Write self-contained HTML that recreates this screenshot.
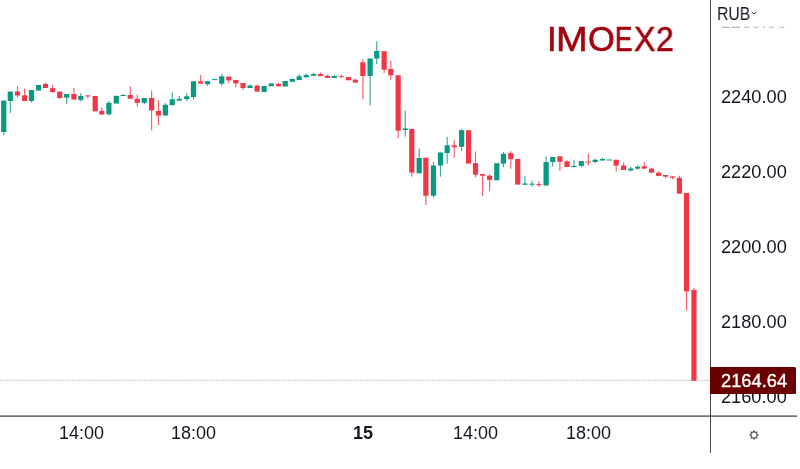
<!DOCTYPE html>
<html><head><meta charset="utf-8">
<style>
html,body{margin:0;padding:0;background:#fff;}
body{width:800px;height:469px;overflow:hidden;position:relative;font-family:"Liberation Sans",sans-serif;}
.abs{position:absolute;white-space:nowrap;}
.pl,.tl,.ti,.tx{will-change:transform;}
.pl{position:absolute;left:721px;font-size:18.2px;line-height:18px;color:#131722;}
.ti{position:absolute;top:22.3px;font-size:34.5px;line-height:34.7px;color:#a1040f;-webkit-text-stroke:0.6px #a1040f;transform-origin:0 0;}
.tl{position:absolute;top:424px;font-size:18px;line-height:18px;color:#131722;}
</style></head><body>
<svg class="abs" style="left:0;top:0" width="800" height="469" viewBox="0 0 800 469">
<line x1="0" y1="380.4" x2="710" y2="380.4" stroke="#c4baba" stroke-width="1.1" stroke-dasharray="0.9 0.9"/>
<rect x="3.17" y="100.60" width="1.15" height="34.40" fill="#089981" fill-opacity="0.8"/>
<rect x="1.15" y="100.60" width="5.2" height="31.40" fill="#089981"/>
<rect x="9.73" y="91.60" width="1.15" height="21.40" fill="#089981" fill-opacity="0.8"/>
<rect x="7.70" y="91.60" width="5.2" height="9.40" fill="#089981"/>
<rect x="16.93" y="86.00" width="1.15" height="11.60" fill="#F23645" fill-opacity="0.8"/>
<rect x="14.90" y="91.60" width="5.2" height="3.80" fill="#F23645"/>
<rect x="24.07" y="88.40" width="1.15" height="12.60" fill="#F23645" fill-opacity="0.8"/>
<rect x="22.05" y="95.40" width="5.2" height="5.60" fill="#F23645"/>
<rect x="30.93" y="90.00" width="1.15" height="12.50" fill="#089981" fill-opacity="0.8"/>
<rect x="28.90" y="90.00" width="5.2" height="11.00" fill="#089981"/>
<rect x="35.90" y="85.00" width="5.2" height="5.60" fill="#089981"/>
<rect x="44.92" y="83.00" width="1.15" height="5.00" fill="#F23645" fill-opacity="0.8"/>
<rect x="42.90" y="84.00" width="5.2" height="4.00" fill="#F23645"/>
<rect x="52.12" y="85.00" width="1.15" height="8.00" fill="#F23645" fill-opacity="0.8"/>
<rect x="50.10" y="88.20" width="5.2" height="3.80" fill="#F23645"/>
<rect x="59.12" y="91.60" width="1.15" height="7.40" fill="#F23645" fill-opacity="0.8"/>
<rect x="57.10" y="91.60" width="5.2" height="6.40" fill="#F23645"/>
<rect x="66.12" y="94.00" width="1.15" height="10.00" fill="#089981" fill-opacity="0.8"/>
<rect x="64.10" y="94.00" width="5.2" height="3.60" fill="#089981"/>
<rect x="73.38" y="88.00" width="1.15" height="11.50" fill="#F23645" fill-opacity="0.8"/>
<rect x="71.35" y="94.00" width="5.2" height="5.50" fill="#F23645"/>
<rect x="80.23" y="93.00" width="1.15" height="8.60" fill="#089981" fill-opacity="0.8"/>
<rect x="78.20" y="96.00" width="5.2" height="3.90" fill="#089981"/>
<rect x="87.22" y="95.40" width="1.15" height="3.00" fill="#F23645" fill-opacity="0.8"/>
<rect x="85.20" y="95.40" width="5.2" height="1.00" fill="#F23645"/>
<rect x="92.60" y="96.00" width="5.2" height="15.40" fill="#F23645"/>
<rect x="101.22" y="107.30" width="1.15" height="7.20" fill="#F23645" fill-opacity="0.8"/>
<rect x="99.20" y="111.00" width="5.2" height="3.50" fill="#F23645"/>
<rect x="108.33" y="101.00" width="1.15" height="14.50" fill="#089981" fill-opacity="0.8"/>
<rect x="106.30" y="102.80" width="5.2" height="11.50" fill="#089981"/>
<rect x="113.70" y="95.80" width="5.2" height="7.80" fill="#089981"/>
<rect x="122.62" y="94.00" width="1.15" height="2.00" fill="#089981" fill-opacity="0.8"/>
<rect x="120.60" y="95.00" width="5.2" height="1.00" fill="#089981"/>
<rect x="129.68" y="86.40" width="1.15" height="12.40" fill="#F23645" fill-opacity="0.8"/>
<rect x="127.65" y="95.00" width="5.2" height="3.80" fill="#F23645"/>
<rect x="136.68" y="94.60" width="1.15" height="12.00" fill="#F23645" fill-opacity="0.8"/>
<rect x="134.65" y="98.80" width="5.2" height="4.00" fill="#F23645"/>
<rect x="143.68" y="98.00" width="1.15" height="6.00" fill="#089981" fill-opacity="0.8"/>
<rect x="141.65" y="98.00" width="5.2" height="4.80" fill="#089981"/>
<rect x="151.03" y="90.60" width="1.15" height="39.70" fill="#F23645" fill-opacity="0.8"/>
<rect x="149.00" y="98.00" width="5.2" height="12.40" fill="#F23645"/>
<rect x="157.88" y="100.30" width="1.15" height="24.70" fill="#F23645" fill-opacity="0.8"/>
<rect x="155.85" y="111.00" width="5.2" height="4.50" fill="#F23645"/>
<rect x="164.78" y="103.00" width="1.15" height="12.50" fill="#089981" fill-opacity="0.8"/>
<rect x="162.75" y="104.80" width="5.2" height="10.70" fill="#089981"/>
<rect x="171.68" y="92.50" width="1.15" height="12.70" fill="#089981" fill-opacity="0.8"/>
<rect x="169.65" y="99.30" width="5.2" height="5.90" fill="#089981"/>
<rect x="178.73" y="95.80" width="1.15" height="4.80" fill="#089981" fill-opacity="0.8"/>
<rect x="176.70" y="98.80" width="5.2" height="1.80" fill="#089981"/>
<rect x="186.18" y="93.00" width="1.15" height="8.00" fill="#089981" fill-opacity="0.8"/>
<rect x="184.15" y="96.30" width="5.2" height="2.80" fill="#089981"/>
<rect x="192.93" y="81.30" width="1.15" height="18.20" fill="#089981" fill-opacity="0.8"/>
<rect x="190.90" y="81.30" width="5.2" height="15.70" fill="#089981"/>
<rect x="200.12" y="75.00" width="1.15" height="8.60" fill="#F23645" fill-opacity="0.8"/>
<rect x="198.10" y="81.30" width="5.2" height="2.30" fill="#F23645"/>
<rect x="206.93" y="81.20" width="1.15" height="4.50" fill="#089981" fill-opacity="0.8"/>
<rect x="204.90" y="81.20" width="5.2" height="3.00" fill="#089981"/>
<rect x="212.05" y="78.90" width="5.2" height="1.00" fill="#089981"/>
<rect x="221.18" y="74.00" width="1.15" height="11.60" fill="#089981" fill-opacity="0.8"/>
<rect x="219.15" y="76.30" width="5.2" height="7.40" fill="#089981"/>
<rect x="228.23" y="76.60" width="1.15" height="6.80" fill="#F23645" fill-opacity="0.8"/>
<rect x="226.20" y="76.60" width="5.2" height="3.80" fill="#F23645"/>
<rect x="235.28" y="80.00" width="1.15" height="7.50" fill="#F23645" fill-opacity="0.8"/>
<rect x="233.25" y="80.00" width="5.2" height="3.40" fill="#F23645"/>
<rect x="242.48" y="83.00" width="1.15" height="7.00" fill="#F23645" fill-opacity="0.8"/>
<rect x="240.45" y="83.00" width="5.2" height="5.00" fill="#F23645"/>
<rect x="249.48" y="84.50" width="1.15" height="3.50" fill="#089981" fill-opacity="0.8"/>
<rect x="247.45" y="85.60" width="5.2" height="2.40" fill="#089981"/>
<rect x="256.57" y="84.50" width="1.15" height="7.10" fill="#F23645" fill-opacity="0.8"/>
<rect x="254.55" y="85.60" width="5.2" height="6.00" fill="#F23645"/>
<rect x="261.50" y="86.00" width="5.2" height="6.00" fill="#089981"/>
<rect x="268.70" y="83.40" width="5.2" height="2.90" fill="#089981"/>
<rect x="277.88" y="82.60" width="1.15" height="3.70" fill="#F23645" fill-opacity="0.8"/>
<rect x="275.85" y="84.00" width="5.2" height="2.30" fill="#F23645"/>
<rect x="282.65" y="81.00" width="5.2" height="5.50" fill="#089981"/>
<rect x="289.75" y="79.00" width="5.2" height="2.80" fill="#089981"/>
<rect x="298.62" y="74.30" width="1.15" height="5.70" fill="#089981" fill-opacity="0.8"/>
<rect x="296.60" y="76.30" width="5.2" height="3.70" fill="#089981"/>
<rect x="305.73" y="73.60" width="1.15" height="3.70" fill="#089981" fill-opacity="0.8"/>
<rect x="303.70" y="75.00" width="5.2" height="2.30" fill="#089981"/>
<rect x="313.07" y="73.00" width="1.15" height="2.80" fill="#089981" fill-opacity="0.8"/>
<rect x="311.05" y="74.00" width="5.2" height="1.80" fill="#089981"/>
<rect x="319.88" y="72.50" width="1.15" height="3.60" fill="#F23645" fill-opacity="0.8"/>
<rect x="317.85" y="74.00" width="5.2" height="2.10" fill="#F23645"/>
<rect x="326.98" y="74.60" width="1.15" height="3.40" fill="#F23645" fill-opacity="0.8"/>
<rect x="324.95" y="75.80" width="5.2" height="2.20" fill="#F23645"/>
<rect x="333.68" y="74.60" width="1.15" height="3.40" fill="#089981" fill-opacity="0.8"/>
<rect x="331.65" y="76.00" width="5.2" height="2.00" fill="#089981"/>
<rect x="340.73" y="74.60" width="1.15" height="2.70" fill="#F23645" fill-opacity="0.8"/>
<rect x="338.70" y="76.30" width="5.2" height="1.00" fill="#F23645"/>
<rect x="345.90" y="77.00" width="5.2" height="3.30" fill="#F23645"/>
<rect x="354.78" y="78.50" width="1.15" height="4.10" fill="#F23645" fill-opacity="0.8"/>
<rect x="352.75" y="79.70" width="5.2" height="2.90" fill="#F23645"/>
<rect x="362.28" y="59.00" width="1.15" height="40.40" fill="#F23645" fill-opacity="0.8"/>
<rect x="360.25" y="62.30" width="5.2" height="13.70" fill="#F23645"/>
<rect x="369.53" y="58.50" width="1.15" height="47.00" fill="#089981" fill-opacity="0.8"/>
<rect x="367.50" y="58.50" width="5.2" height="17.50" fill="#089981"/>
<rect x="376.18" y="41.30" width="1.15" height="22.70" fill="#089981" fill-opacity="0.8"/>
<rect x="374.15" y="51.00" width="5.2" height="7.50" fill="#089981"/>
<rect x="383.57" y="51.30" width="1.15" height="21.70" fill="#F23645" fill-opacity="0.8"/>
<rect x="381.55" y="51.30" width="5.2" height="18.40" fill="#F23645"/>
<rect x="390.23" y="60.70" width="1.15" height="19.00" fill="#F23645" fill-opacity="0.8"/>
<rect x="388.20" y="69.00" width="5.2" height="6.30" fill="#F23645"/>
<rect x="397.57" y="75.30" width="1.15" height="63.00" fill="#F23645" fill-opacity="0.8"/>
<rect x="395.55" y="75.30" width="5.2" height="55.30" fill="#F23645"/>
<rect x="404.68" y="110.60" width="1.15" height="26.00" fill="#089981" fill-opacity="0.8"/>
<rect x="402.65" y="128.50" width="5.2" height="1.50" fill="#089981"/>
<rect x="411.23" y="129.00" width="1.15" height="47.70" fill="#F23645" fill-opacity="0.8"/>
<rect x="409.20" y="129.00" width="5.2" height="43.60" fill="#F23645"/>
<rect x="418.62" y="148.50" width="1.15" height="24.80" fill="#089981" fill-opacity="0.8"/>
<rect x="416.60" y="158.00" width="5.2" height="15.30" fill="#089981"/>
<rect x="425.28" y="157.70" width="1.15" height="47.30" fill="#F23645" fill-opacity="0.8"/>
<rect x="423.25" y="157.70" width="5.2" height="38.00" fill="#F23645"/>
<rect x="432.93" y="162.00" width="1.15" height="35.70" fill="#089981" fill-opacity="0.8"/>
<rect x="430.90" y="165.50" width="5.2" height="30.20" fill="#089981"/>
<rect x="439.88" y="152.50" width="1.15" height="24.20" fill="#089981" fill-opacity="0.8"/>
<rect x="437.85" y="152.50" width="5.2" height="13.00" fill="#089981"/>
<rect x="446.62" y="136.80" width="1.15" height="26.90" fill="#089981" fill-opacity="0.8"/>
<rect x="444.60" y="145.30" width="5.2" height="7.70" fill="#089981"/>
<rect x="453.68" y="140.20" width="1.15" height="17.40" fill="#F23645" fill-opacity="0.8"/>
<rect x="451.65" y="145.30" width="5.2" height="1.90" fill="#F23645"/>
<rect x="461.07" y="128.80" width="1.15" height="22.20" fill="#089981" fill-opacity="0.8"/>
<rect x="459.05" y="130.20" width="5.2" height="16.60" fill="#089981"/>
<rect x="465.95" y="130.20" width="5.2" height="33.40" fill="#F23645"/>
<rect x="474.93" y="151.40" width="1.15" height="25.90" fill="#F23645" fill-opacity="0.8"/>
<rect x="472.90" y="163.20" width="5.2" height="11.50" fill="#F23645"/>
<rect x="482.03" y="174.10" width="1.15" height="21.90" fill="#F23645" fill-opacity="0.8"/>
<rect x="480.00" y="174.10" width="5.2" height="1.60" fill="#F23645"/>
<rect x="489.07" y="174.00" width="1.15" height="16.90" fill="#F23645" fill-opacity="0.8"/>
<rect x="487.05" y="175.70" width="5.2" height="4.10" fill="#F23645"/>
<rect x="494.20" y="163.20" width="5.2" height="17.00" fill="#089981"/>
<rect x="502.88" y="152.00" width="1.15" height="15.20" fill="#089981" fill-opacity="0.8"/>
<rect x="500.85" y="153.90" width="5.2" height="9.70" fill="#089981"/>
<rect x="510.18" y="151.20" width="1.15" height="17.50" fill="#F23645" fill-opacity="0.8"/>
<rect x="508.15" y="153.20" width="5.2" height="6.00" fill="#F23645"/>
<rect x="515.10" y="159.00" width="5.2" height="25.60" fill="#F23645"/>
<rect x="524.32" y="175.90" width="1.15" height="8.90" fill="#089981" fill-opacity="0.8"/>
<rect x="522.30" y="183.50" width="5.2" height="1.30" fill="#089981"/>
<rect x="531.42" y="180.70" width="1.15" height="6.00" fill="#089981" fill-opacity="0.8"/>
<rect x="529.40" y="183.70" width="5.2" height="1.00" fill="#089981"/>
<rect x="538.38" y="181.20" width="1.15" height="5.80" fill="#F23645" fill-opacity="0.8"/>
<rect x="536.35" y="184.10" width="5.2" height="1.00" fill="#F23645"/>
<rect x="545.52" y="156.60" width="1.15" height="28.90" fill="#089981" fill-opacity="0.8"/>
<rect x="543.50" y="162.00" width="5.2" height="23.50" fill="#089981"/>
<rect x="552.22" y="157.00" width="1.15" height="9.60" fill="#089981" fill-opacity="0.8"/>
<rect x="550.20" y="157.00" width="5.2" height="5.00" fill="#089981"/>
<rect x="559.32" y="156.40" width="1.15" height="14.60" fill="#F23645" fill-opacity="0.8"/>
<rect x="557.30" y="156.40" width="5.2" height="5.40" fill="#F23645"/>
<rect x="566.42" y="160.20" width="1.15" height="6.80" fill="#F23645" fill-opacity="0.8"/>
<rect x="564.40" y="161.30" width="5.2" height="5.70" fill="#F23645"/>
<rect x="573.42" y="159.80" width="1.15" height="7.30" fill="#089981" fill-opacity="0.8"/>
<rect x="571.40" y="166.00" width="5.2" height="1.10" fill="#089981"/>
<rect x="580.72" y="161.10" width="1.15" height="6.40" fill="#089981" fill-opacity="0.8"/>
<rect x="578.70" y="161.10" width="5.2" height="4.80" fill="#089981"/>
<rect x="587.77" y="153.80" width="1.15" height="11.60" fill="#F23645" fill-opacity="0.8"/>
<rect x="585.75" y="161.50" width="5.2" height="1.00" fill="#F23645"/>
<rect x="594.57" y="158.60" width="1.15" height="4.40" fill="#089981" fill-opacity="0.8"/>
<rect x="592.55" y="159.80" width="5.2" height="2.20" fill="#089981"/>
<rect x="601.97" y="157.70" width="1.15" height="2.80" fill="#089981" fill-opacity="0.8"/>
<rect x="599.95" y="159.00" width="5.2" height="1.50" fill="#089981"/>
<rect x="606.70" y="159.50" width="5.2" height="1.00" fill="#089981"/>
<rect x="615.62" y="159.80" width="1.15" height="11.60" fill="#F23645" fill-opacity="0.8"/>
<rect x="613.60" y="159.80" width="5.2" height="5.80" fill="#F23645"/>
<rect x="623.02" y="162.40" width="1.15" height="7.60" fill="#F23645" fill-opacity="0.8"/>
<rect x="621.00" y="165.50" width="5.2" height="4.50" fill="#F23645"/>
<rect x="630.17" y="166.80" width="1.15" height="4.60" fill="#089981" fill-opacity="0.8"/>
<rect x="628.15" y="168.50" width="5.2" height="2.00" fill="#089981"/>
<rect x="637.02" y="165.40" width="1.15" height="4.30" fill="#089981" fill-opacity="0.8"/>
<rect x="635.00" y="166.70" width="5.2" height="1.90" fill="#089981"/>
<rect x="643.67" y="161.90" width="1.15" height="6.70" fill="#F23645" fill-opacity="0.8"/>
<rect x="641.65" y="166.20" width="5.2" height="2.40" fill="#F23645"/>
<rect x="650.92" y="167.60" width="1.15" height="5.80" fill="#F23645" fill-opacity="0.8"/>
<rect x="648.90" y="168.60" width="5.2" height="4.00" fill="#F23645"/>
<rect x="658.08" y="171.30" width="1.15" height="4.60" fill="#F23645" fill-opacity="0.8"/>
<rect x="656.05" y="172.70" width="5.2" height="3.20" fill="#F23645"/>
<rect x="665.02" y="175.00" width="1.15" height="3.50" fill="#F23645" fill-opacity="0.8"/>
<rect x="663.00" y="175.00" width="5.2" height="1.60" fill="#F23645"/>
<rect x="672.02" y="176.40" width="1.15" height="2.90" fill="#F23645" fill-opacity="0.8"/>
<rect x="670.00" y="176.40" width="5.2" height="1.30" fill="#F23645"/>
<rect x="678.88" y="175.70" width="1.15" height="17.90" fill="#F23645" fill-opacity="0.8"/>
<rect x="676.85" y="177.80" width="5.2" height="15.80" fill="#F23645"/>
<rect x="685.92" y="193.10" width="1.15" height="117.30" fill="#F23645" fill-opacity="0.8"/>
<rect x="683.90" y="193.10" width="5.2" height="98.20" fill="#F23645"/>
<rect x="693.38" y="288.00" width="1.15" height="92.70" fill="#F23645" fill-opacity="0.8"/>
<rect x="691.35" y="289.90" width="5.2" height="90.80" fill="#F23645"/>

<rect x="710" y="0" width="1" height="453" fill="#474747"/>
<rect x="0" y="415.5" width="797" height="1.2" fill="#3a3a3a"/>
</svg>
<div class="pl" style="top:13.0px">2260.00</div>
<div class="pl" style="top:88.2px">2240.00</div>
<div class="pl" style="top:163.2px">2220.00</div>
<div class="pl" style="top:238.2px">2200.00</div>
<div class="pl" style="top:313.2px">2180.00</div>
<div class="pl" style="top:388.2px">2160.00</div>
<div class="abs" style="left:711px;top:0;width:89px;height:29px;background:linear-gradient(#fff 0,#fff 26px,rgba(255,255,255,0.72) 27px,rgba(255,255,255,0.6) 29px)"></div>
<div class="abs tx" style="left:717px;top:5px;font-size:18px;line-height:18px;color:#131722;transform:scaleX(0.875);transform-origin:0 0;">RUB</div>
<svg class="abs" style="left:751px;top:11px" width="6" height="4" viewBox="0 0 6 4"><path d="M0.8 1 L3 3 L5.2 1" stroke="#131722" stroke-width="0.9" fill="none"/></svg>
<div class="abs" style="left:710px;top:367px;width:86px;height:26.5px;background:#6b0000;border-radius:0 1.5px 1.5px 0;"></div>
<div class="abs tx" style="left:721px;top:372px;font-size:18.3px;line-height:18px;color:#fff;-webkit-text-stroke:0.35px #fff;">2164.64</div>
<div class="tl" style="left:59px">14:00</div>
<div class="tl" style="left:171px">18:00</div>
<div class="tl" style="left:353px;font-weight:bold">15</div>
<div class="tl" style="left:453px">14:00</div>
<div class="tl" style="left:565.5px">18:00</div>
<div class="ti" style="left:547.2px;transform:scaleX(1.0)">I</div>
<div class="ti" style="left:556.1px;transform:scaleX(1.1)">M</div>
<div class="ti" style="left:587.6px;transform:scaleX(1.0)">O</div>
<div class="ti" style="left:614.9px;transform:scaleX(0.76)">E</div>
<div class="ti" style="left:634.3px;transform:scaleX(0.93)">X</div>
<div class="ti" style="left:656.1px;transform:scaleX(0.925)">2</div>
<svg class="abs" style="left:744px;top:425px" width="20" height="20" viewBox="0 0 20 20"><g transform="translate(10 10)"><polygon points="0.00,-5.00 1.30,-3.14 3.54,-3.54 3.14,-1.30 5.00,0.00 3.14,1.30 3.54,3.54 1.30,3.14 0.00,5.00 -1.30,3.14 -3.54,3.54 -3.14,1.30 -5.00,0.00 -3.14,-1.30 -3.54,-3.54 -1.30,-3.14" fill="#50535a"/><circle r="2.5" fill="#fff"/></g></svg>
</body></html>
